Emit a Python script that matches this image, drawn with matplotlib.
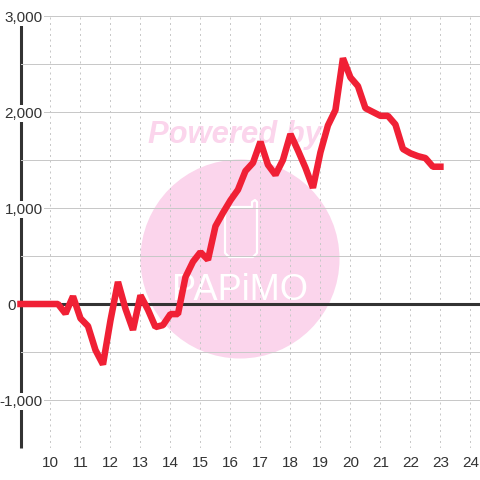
import numpy as np
import matplotlib
matplotlib.use('Agg')
import matplotlib.pyplot as plt
from matplotlib.lines import Line2D
from matplotlib.patches import Circle

hours = np.arange(9, 23.01, 0.25)
values = [0, 0, 0, 0, 0, 0, -100, 80, -150, -230, -480, -630,
          -170, 230, -50, -270, 90, -60, -240, -220, -105, -105, 280, 440,
          540, 460, 810, 950, 1080, 1190, 1385, 1470, 1690, 1450, 1345, 1500,
          1770, 1600, 1420, 1210, 1580, 1860, 2020, 2560, 2360, 2270, 2040, 2000,
          1960, 1960, 1870, 1615, 1570, 1540, 1520, 1430, 1430]
xticks = list(range(10, 25))
yticks = [-1000, 0, 1000, 2000, 3000]
ylabels = ['-1,000', '0', '1,000', '2,000', '3,000']

TEXT = '#333333'
GRID = '#c8c8c8'
PINK = '#fbd5ec'

def px(x, y):
    """Figure fraction from picture pixels, origin at the top left."""
    return x / 480, 1 - y / 480

plt.rcParams['font.family'] = ['Liberation Sans', 'DejaVu Sans']
fig = plt.figure(figsize=(4.8, 4.8), dpi=100)
ax = fig.add_axes([20.5 / 480, 1 - 448 / 480, 459.5 / 480, 432 / 480])
ax.set_xlim(9, 24.32)
ax.set_ylim(-1500, 3000)
ax.set_zorder(5)
ax.patch.set_alpha(0)

# watermark sits behind the axes
fig.patches.append(Circle(px(240, 259), 99.5 / 480, transform=fig.transFigure,
                          fc=PINK, ec='none', zorder=0))
fig.text(*px(235, 135), 'Powered by', color=PINK, fontsize=22.3, style='italic',
         weight='bold', ha='center', va='center', zorder=0)
icon = [(225, 215), (225, 253), (229, 257), (253, 257), (257, 253), (257, 202), (255, 200),
        (252, 202), (252, 207), (229, 207), (225, 211), (225, 215)]
icon_x, icon_y = zip(*[px(*p) for p in icon])
fig.add_artist(Line2D(icon_x, icon_y, color='white', lw=1.6, transform=fig.transFigure, zorder=1))
fig.text(*px(240, 291), 'PAPiMO', color='white', fontsize=26, ha='center', va='center', zorder=1)

ax.set_yticks(yticks, ylabels)
ax.set_yticks([-1500, -500, 500, 1500, 2500], minor=True)
ax.set_xticks(xticks)
ax.tick_params(axis='both', which='both', length=0, labelsize=11, labelcolor=TEXT)
ax.tick_params(axis='y', pad=-16)
ax.tick_params(axis='x', pad=6)
ax.grid(True, axis='y', which='both', color=GRID, lw=0.72)
ax.grid(True, axis='x', color=GRID, lw=0.72, ls=(0, (2, 3.5)))
ax.set_axisbelow(True)

# labels sit on the spine with a white box, except the 0 which is left of it
for tick, name in zip(ax.yaxis.get_major_ticks(), ylabels):
    if name == '0':
        tick.set_pad(3)
    else:
        tick.label1.set_bbox(dict(fc='white', ec='none', pad=1))

for side in ['top', 'right', 'bottom']:
    ax.spines[side].set_visible(False)
ax.spines['left'].set_linewidth(2.2)
ax.spines['left'].set_color(TEXT)
ax.spines['left'].set_zorder(0.4)
ax.spines['left'].set_capstyle('butt')
ax.axhline(0, color=TEXT, lw=2.2, zorder=2)

ax.plot(hours, values, color='#f02035', lw=4.7, solid_joinstyle='bevel', solid_capstyle='projecting',
        zorder=3, clip_on=False)

fig.savefig('out.png', dpi=100)
